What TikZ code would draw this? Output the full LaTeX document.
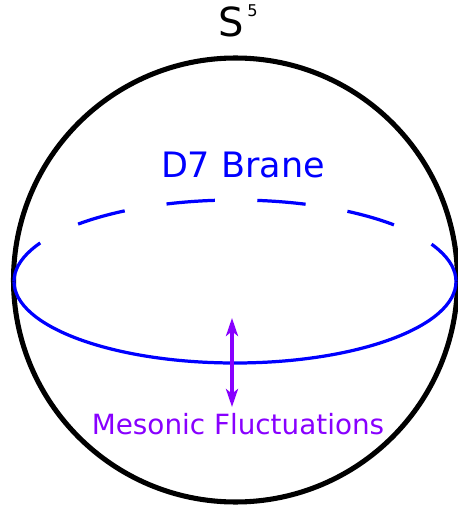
\documentclass[tikz,border=0pt]{standalone}
\usepackage{fontspec}
\setmainfont{DejaVu Sans}
\usepackage{tikz}
\usetikzlibrary{arrows.meta,positioning,calc}
\definecolor{brane}{HTML}{0000FF}
\definecolor{meson}{HTML}{8800FF}

\begin{document}
\begin{tikzpicture}[>=Stealth,
 lbl/.style={inner sep=0pt,anchor=base},
 sphere/.style={draw=black,line width=3.6pt},
 d7/.style={draw=brane,line width=2.3pt},
 fl/.style={<->,draw=meson,line width=2.8pt,>={Stealth[length=4.5mm,width=3mm,inset=1.2mm]}}]
\useasboundingbox (0,0) rectangle (11.45,12.775);
% sphere and brane
\coordinate (c) at (5.8875,5.775);
\coordinate (e) at (5.875,5.7375);
\draw[sphere] (c) circle[radius=5.55];
\draw[d7] ($(e)+(-5.525,0)$) arc[start angle=180,end angle=360,x radius=5.525,y radius=2.0375];
\draw[d7,dash pattern=on 1.2125cm off 1.06cm] ($(e)+(-5.525,0)$) arc[start angle=180,end angle=0,x radius=5.525,y radius=2.0375];
% labels
\node[lbl,font=\fontsize{28.5}{30}\selectfont] (s5) at (5.775,11.85) {S};
\node[lbl,font=\fontsize{11.5}{13}\selectfont] (five) at (6.31,12.35) {5};
\node[lbl,font=\fontsize{24.9}{28}\selectfont,text=brane] (d7name) at (6.075,8.325) {D7 Brane};
\node[lbl,font=\fontsize{19.8}{22}\selectfont,text=meson] (fluct) at (5.95,1.9) {Mesonic Fluctuations};
\coordinate (fluctTop) at (5.8,4.825);
\coordinate (fluctBot) at (5.8,2.6);
\draw[fl] (fluctBot) -- (fluctTop);
\end{tikzpicture}
\end{document}
